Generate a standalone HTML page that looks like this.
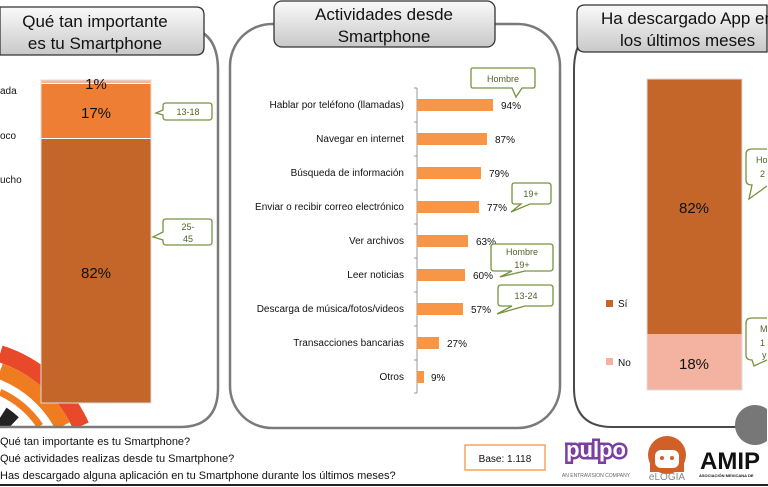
<!DOCTYPE html>
<html><head><meta charset="utf-8"><style>
html,body{margin:0;padding:0;background:#fff;overflow:hidden;width:768px;height:487px;}
body{position:relative;font-family:"Liberation Sans",sans-serif;}
svg{display:block;position:absolute;left:0;top:0;}
svg text{font-family:"Liberation Sans",sans-serif;}
</style></head><body>
<svg width="768" height="487" viewBox="0 0 768 487" xmlns="http://www.w3.org/2000/svg" overflow="hidden">
<defs>
<linearGradient id="tg" x1="0" y1="0" x2="0" y2="1"><stop offset="0" stop-color="#fafafa"/><stop offset="1" stop-color="#c8c8c8"/></linearGradient>
<clipPath id="lc"><rect x="0" y="0" width="218" height="426"/></clipPath>
</defs>
<g clip-path="url(#lc)" fill="none">
<path d="M0 353.7 A132.5 132.5 0 0 1 81 426" stroke="#e8492a" stroke-width="17"/>
<path d="M0 371.1 A116 116 0 0 1 62.7 426" stroke="#f07c22" stroke-width="16"/>
<path d="M0 392.2 A96.5 96.5 0 0 1 40 426" stroke="#f07c22" stroke-width="7"/>
<path d="M0 417.7 A74 74 0 0 1 10.6 426" stroke="#222" stroke-width="24"/>
</g>
<path d="M0 27 H180 Q218 27 218 70 V388 Q218 427 180 427 H0" fill="none" stroke="#7a7a7a" stroke-width="2.5"/>
<rect x="230" y="24" width="330" height="404" rx="42" fill="none" stroke="#7a7a7a" stroke-width="2.5"/>
<path d="M767 27 H612 Q574 27 574 70 V388 Q574 427 612 427 H767" fill="none" stroke="#4a4a4a" stroke-width="2"/>
<path d="M0 7 H196 Q204 7 204 15 V47 Q204 55 196 55 H0 Z" fill="url(#tg)" stroke="#333" stroke-width="1.3"/>
<text x="95" y="27" font-size="17" text-anchor="middle" fill="#111">Qué tan importante</text>
<text x="95" y="49" font-size="17" text-anchor="middle" fill="#111">es tu Smartphone</text>
<rect x="274" y="1" width="221" height="46" rx="8" fill="url(#tg)" stroke="#333" stroke-width="1.3"/>
<text x="384" y="20" font-size="17" text-anchor="middle" fill="#111">Actividades desde</text>
<text x="384" y="42" font-size="17" text-anchor="middle" fill="#111">Smartphone</text>
<path d="M767 5 H585 Q577 5 577 13 V44 Q577 52 585 52 H767 Z" fill="url(#tg)" stroke="#333" stroke-width="1.3"/>
<text x="601" y="24" font-size="17" fill="#111">Ha descargado App en</text>
<text x="620" y="46" font-size="17" fill="#111">los últimos meses</text>
<rect x="41" y="80" width="110" height="3" fill="#f4b6a0"/>
<rect x="41" y="84" width="110" height="54" fill="#ee7e33"/>
<rect x="41" y="139" width="110" height="264" fill="#c4652a"/>
<rect x="41" y="80" width="110" height="323" fill="none" stroke="#ddd" stroke-width="1"/>
<text x="96" y="89" font-size="15" text-anchor="middle" fill="#111">1%</text>
<text x="96" y="118" font-size="15" text-anchor="middle" fill="#111">17%</text>
<text x="96" y="278" font-size="15" text-anchor="middle" fill="#111">82%</text>
<text x="0" y="94" font-size="10" fill="#111">ada</text>
<text x="0" y="139" font-size="10" fill="#111">oco</text>
<text x="0" y="183" font-size="10" fill="#111">ucho</text>
<path d="M166 103 H209 Q212 103 212 106 V117 Q212 120 209 120 H166 Q163 120 163 117 V115 L156 113 L163 110 V106 Q163 103 166 103 Z" fill="#fff" stroke="#77933c" stroke-width="1.3"/>
<text x="188" y="115" font-size="9" text-anchor="middle" fill="#4f6228">13-18</text>
<path d="M166 219 H209 Q212 219 212 222 V242 Q212 245 209 245 H166 Q163 245 163 242 V240 L153 237 L163 232 V222 Q163 219 166 219 Z" fill="#fff" stroke="#77933c" stroke-width="1.3"/>
<text x="188" y="230" font-size="9" text-anchor="middle" fill="#4f6228">25-</text>
<text x="188" y="242" font-size="9" text-anchor="middle" fill="#4f6228">45</text>
<line x1="417" y1="88" x2="417" y2="393" stroke="#999" stroke-width="1"/>
<g stroke="#999" stroke-width="1">
<line x1="414" y1="88" x2="417" y2="88"/><line x1="414" y1="122" x2="417" y2="122"/><line x1="414" y1="156" x2="417" y2="156"/><line x1="414" y1="190" x2="417" y2="190"/><line x1="414" y1="224" x2="417" y2="224"/><line x1="414" y1="258" x2="417" y2="258"/><line x1="414" y1="292" x2="417" y2="292"/><line x1="414" y1="326" x2="417" y2="326"/><line x1="414" y1="360" x2="417" y2="360"/><line x1="414" y1="393" x2="417" y2="393"/>
</g>
<g fill="#f79646">
<rect x="417" y="99" width="76" height="12"/>
<rect x="417" y="133" width="70" height="12"/>
<rect x="417" y="167" width="64" height="12"/>
<rect x="417" y="201" width="62" height="12"/>
<rect x="417" y="235" width="51" height="12"/>
<rect x="417" y="269" width="48" height="12"/>
<rect x="417" y="303" width="46" height="12"/>
<rect x="417" y="337" width="22" height="12"/>
<rect x="417" y="371" width="7" height="12"/>
</g>
<g font-size="10" fill="#111" text-anchor="end">
<text x="404" y="108">Hablar por teléfono (llamadas)</text>
<text x="404" y="142">Navegar en internet</text>
<text x="404" y="176">Búsqueda de información</text>
<text x="404" y="210">Enviar o recibir correo electrónico</text>
<text x="404" y="244">Ver archivos</text>
<text x="404" y="278">Leer noticias</text>
<text x="404" y="312">Descarga de música/fotos/videos</text>
<text x="404" y="346">Transacciones bancarias</text>
<text x="404" y="380">Otros</text>
</g>
<g font-size="10" fill="#111">
<text x="501" y="109">94%</text>
<text x="495" y="143">87%</text>
<text x="489" y="177">79%</text>
<text x="487" y="211">77%</text>
<text x="476" y="245">63%</text>
<text x="473" y="279">60%</text>
<text x="471" y="313">57%</text>
<text x="447" y="347">27%</text>
<text x="431" y="381">9%</text>
</g>
<path d="M473 68 H533 Q535 68 535 70 V86 Q535 88 533 88 H522 L516 97 L512 88 H473 Q471 88 471 86 V70 Q471 68 473 68 Z" fill="#fff" stroke="#77933c" stroke-width="1.3"/>
<text x="503" y="82" font-size="9" text-anchor="middle" fill="#4f6228">Hombre</text>
<path d="M514 183 H548 Q551 183 551 186 V201 Q551 204 548 204 H530 L511 212 L521 204 H514 Q512 204 512 201 V186 Q512 183 514 183 Z" fill="#fff" stroke="#77933c" stroke-width="1.3"/>
<text x="531" y="197" font-size="9" text-anchor="middle" fill="#4f6228">19+</text>
<path d="M494 244 H550 Q553 244 553 247 V268 Q553 271 550 271 H525 L500 277 L512 271 H494 Q491 271 491 268 V247 Q491 244 494 244 Z" fill="#fff" stroke="#77933c" stroke-width="1.3"/>
<text x="522" y="255" font-size="9" text-anchor="middle" fill="#4f6228">Hombre</text>
<text x="522" y="268" font-size="9" text-anchor="middle" fill="#4f6228">19+</text>
<path d="M501 285 H550 Q553 285 553 288 V303 Q553 306 550 306 H525 L497 314 L512 306 H501 Q498 306 498 303 V288 Q498 285 501 285 Z" fill="#fff" stroke="#77933c" stroke-width="1.3"/>
<text x="526" y="299" font-size="9" text-anchor="middle" fill="#4f6228">13-24</text>
<rect x="647" y="79" width="95" height="255" fill="#c4652a"/>
<rect x="647" y="334" width="95" height="56" fill="#f4b3a1"/>
<rect x="647" y="79" width="95" height="311" fill="none" stroke="#ddd" stroke-width="1"/>
<text x="694" y="213" font-size="15" text-anchor="middle" fill="#111">82%</text>
<text x="694" y="369" font-size="15" text-anchor="middle" fill="#111">18%</text>
<rect x="606" y="300" width="7" height="7" fill="#c4652a"/>
<text x="618" y="307" font-size="10" fill="#111">Sí</text>
<rect x="606" y="358" width="7" height="7" fill="#f4b3a1"/>
<text x="618" y="366" font-size="10" fill="#111">No</text>
<path d="M767 149 H752 Q746 149 746 154 V180 Q746 185 752 185 L749 199 L767 186" fill="#fff" stroke="#77933c" stroke-width="1.3"/>
<text x="756" y="163" font-size="9" fill="#4f6228">Ho</text>
<text x="760" y="177" font-size="9" fill="#4f6228">2</text>
<path d="M767 318 H752 Q746 318 746 323 V355 Q746 360 752 360 L754 366 L767 360" fill="#fff" stroke="#77933c" stroke-width="1.3"/>
<text x="760" y="332" font-size="9" fill="#4f6228">M</text>
<text x="760" y="346" font-size="9" fill="#4f6228">1</text>
<text x="762" y="358" font-size="9" fill="#4f6228">y</text>
<g font-size="11" fill="#111">
<text x="0" y="445">Qué tan importante es tu Smartphone?</text>
<text x="0" y="462">Qué actividades realizas desde tu Smartphone?</text>
<text x="0" y="479">Has descargado alguna aplicación en tu Smartphone durante los últimos meses?</text>
</g>
<rect x="465" y="445" width="80" height="25" fill="#fff" stroke="#f79646" stroke-width="1.3"/>
<text x="505" y="462" font-size="10" text-anchor="middle" fill="#111">Base: 1.118</text>
<text x="596" y="457" font-size="22" font-weight="bold" fill="#fff" stroke="#7b3fa0" stroke-width="5" text-anchor="middle" paint-order="stroke">pulpo</text>
<text x="596" y="477" font-size="5" fill="#666" text-anchor="middle">AN ENTRAVISION COMPANY</text>
<circle cx="667" cy="455" r="19" fill="#d05f28"/>
<rect x="650" y="455" width="34" height="17" fill="#d05f28"/>
<rect x="655" y="450" width="24" height="18" rx="6" fill="#fff"/>
<circle cx="662" cy="458" r="2" fill="#d05f28"/><circle cx="672" cy="458" r="2" fill="#d05f28"/>
<text x="667" y="480" font-size="10" fill="#888" text-anchor="middle">eLOGIA</text>
<path d="M735 425 A20 20 0 0 1 767 409 V441 A20 20 0 0 1 735 425 Z" fill="#777"/>
<text x="700" y="469" font-size="24" font-weight="bold" fill="#111">AMIP</text>
<text x="699" y="477" font-size="4" font-weight="bold" fill="#111">ASOCIACIÓN MEXICANA DE</text>
<line x1="0" y1="485" x2="768" y2="485" stroke="#222" stroke-width="2"/>
</svg>
</body></html>
